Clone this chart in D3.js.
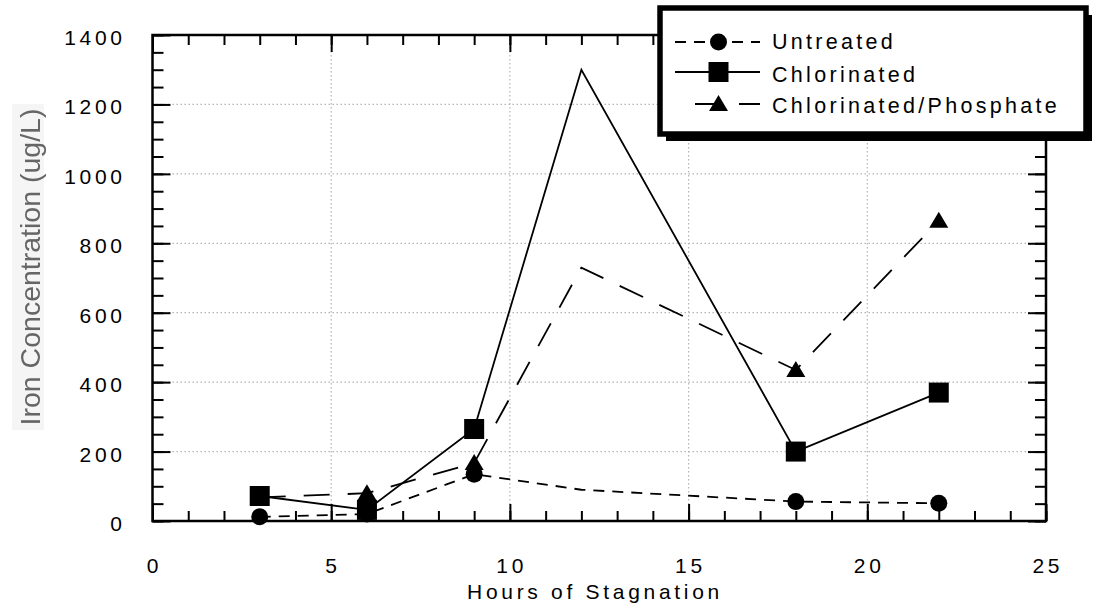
<!DOCTYPE html>
<html>
<head>
<meta charset="utf-8">
<script src="https://cdn.jsdelivr.net/npm/d3@7/dist/d3.min.js"></script>
<style>
  html, body { margin: 0; padding: 0; background: #fff; }
  svg { display: block; }
  .tick-label, .axis-title-x, .legend-text {
    font-family: "Liberation Sans", Arial, Helvetica, sans-serif;
    fill: #000;
  }
</style>
</head>
<body>
<svg id="chart" width="1094" height="610"></svg>
<script>
// Sampling times (hours of stagnation)
const hours = [3, 6, 9, 12, 18, 22];
// Iron concentration (ug/L) for each treatment
const untreated = [12, 20, 135, 90, 56, 51];
const chlorinated = [72, 32, 265, 1300, 200, 370];
const chlorPhosphate = [68, 80, 167, 730, 435, 865];
// Hours at which a symbol is plotted
const markedHours = [3, 6, 9, 18, 22];

const seriesNames = ["Untreated", "Chlorinated", "Chlorinated/Phosphate"];
const xTickValues = [0, 5, 10, 15, 20, 25];
const yTickValues = [0, 200, 400, 600, 800, 1000, 1200, 1400];
const xTitle = "Hours of Stagnation";
const yTitle = "Iron Concentration (ug/L)";

const svg = d3.select("#chart");
const plot = { left: 152.5, right: 1046, top: 35, bottom: 521 };

const x = d3.scaleLinear().domain([0, 25]).range([plot.left, plot.right]);
const y = d3.scaleLinear().domain([0, 1400]).range([plot.bottom, plot.top]);

// dotted grid
const grid = svg.append("g").attr("stroke", "#b4b4b4").attr("stroke-width", 1.2)
  .attr("stroke-dasharray", "1.5,2.5");
grid.selectAll("line.gx").data(xTickValues.filter(v => v > 0 && v < 25)).join("line")
  .attr("x1", d => x(d)).attr("x2", d => x(d))
  .attr("y1", plot.top).attr("y2", plot.bottom);
grid.selectAll("line.gy").data(yTickValues.filter(v => v > 0 && v < 1400)).join("line")
  .attr("x1", plot.left).attr("x2", plot.right)
  .attr("y1", d => y(d)).attr("y2", d => y(d));

// inward ticks on all four sides
const xMinor = d3.range(0, 26, 1);
const yMinor = d3.range(0, 1401, 50);
function styleAxis(g) {
  g.select(".domain").remove();
  g.selectAll(".tick line").attr("stroke", "#000").attr("stroke-width", 2);
  g.selectAll(".tick text").remove();
}
svg.append("g").attr("transform", `translate(0,${plot.bottom})`)
  .call(d3.axisBottom(x).tickValues(xMinor).tickSize(-10)).call(styleAxis);
svg.append("g").attr("transform", `translate(0,${plot.bottom})`)
  .call(d3.axisBottom(x).tickValues(xTickValues).tickSize(-17)).call(styleAxis);
svg.append("g").attr("transform", `translate(0,${plot.top})`)
  .call(d3.axisTop(x).tickValues(xMinor).tickSize(-10)).call(styleAxis);
svg.append("g").attr("transform", `translate(0,${plot.top})`)
  .call(d3.axisTop(x).tickValues(xTickValues).tickSize(-17)).call(styleAxis);
svg.append("g").attr("transform", `translate(${plot.left},0)`)
  .call(d3.axisLeft(y).tickValues(yMinor).tickSize(-11)).call(styleAxis);
svg.append("g").attr("transform", `translate(${plot.left},0)`)
  .call(d3.axisLeft(y).tickValues(yTickValues).tickSize(-18)).call(styleAxis);
svg.append("g").attr("transform", `translate(${plot.right},0)`)
  .call(d3.axisRight(y).tickValues(yMinor).tickSize(-11)).call(styleAxis);
svg.append("g").attr("transform", `translate(${plot.right},0)`)
  .call(d3.axisRight(y).tickValues(yTickValues).tickSize(-18)).call(styleAxis);

// frame
svg.append("rect")
  .attr("x", plot.left).attr("y", plot.top)
  .attr("width", plot.right - plot.left).attr("height", plot.bottom - plot.top)
  .attr("fill", "none").attr("stroke", "#000").attr("stroke-width", 2.5);

// tick labels
const spacing = 3.7;
svg.append("g").selectAll("text").data(xTickValues).join("text")
  .attr("class", "tick-label")
  .attr("x", d => x(d) + spacing / 2).attr("y", 573)
  .attr("text-anchor", "middle")
  .style("font-size", "21px").style("letter-spacing", spacing + "px")
  .text(d => d);
svg.append("g").selectAll("text").data(yTickValues).join("text")
  .attr("class", "tick-label")
  .attr("x", 122 + spacing).attr("y", d => y(d) + 10)
  .attr("text-anchor", "end")
  .style("font-size", "21px").style("letter-spacing", spacing + "px")
  .text(d => d);

// axis titles
svg.append("text").attr("class", "axis-title-x")
  .attr("x", 595).attr("y", 599).attr("text-anchor", "middle")
  .style("font-size", "21px").style("letter-spacing", spacing + "px")
  .text(xTitle);

const defs = svg.append("defs");
defs.append("filter").attr("id", "soft")
  .append("feGaussianBlur").attr("stdDeviation", 0.55);
svg.append("rect").attr("x", 12).attr("y", 104).attr("width", 32).attr("height", 326)
  .attr("fill", "#f5f5f5");
svg.append("text")
  .attr("transform", "translate(40,267) rotate(-90)")
  .attr("text-anchor", "middle")
  .attr("filter", "url(#soft)")
  .style("font-family", '"Liberation Sans", Arial, sans-serif')
  .style("font-size", "28.5px").style("fill", "#666")
  .text(yTitle);

// series
const series = [
  { name: seriesNames[0], values: untreated, dash: "11,8", marker: "circle" },
  { name: seriesNames[1], values: chlorinated, dash: null, marker: "square" },
  { name: seriesNames[2], values: chlorPhosphate, dash: "26,18", marker: "triangle" }
];

const line = d3.line().x(d => x(d.h)).y(d => y(d.v));

function drawMarker(g, type, cx, cy) {
  if (type === "circle") {
    g.append("circle").attr("cx", cx).attr("cy", cy).attr("r", 8.5).attr("fill", "#000");
  } else if (type === "square") {
    g.append("rect").attr("x", cx - 10).attr("y", cy - 10)
      .attr("width", 20).attr("height", 20).attr("fill", "#000");
  } else {
    g.append("path")
      .attr("d", `M${cx},${cy - 9}L${cx + 9.5},${cy + 7}L${cx - 9.5},${cy + 7}Z`)
      .attr("fill", "#000");
  }
}

const linesG = svg.append("g");
const marksG = svg.append("g");
series.forEach(s => {
  const pts = hours.map((h, i) => ({ h, v: s.values[i] }));
  linesG.append("path").datum(pts)
    .attr("d", line)
    .attr("fill", "none").attr("stroke", "#000").attr("stroke-width", 1.8)
    .attr("stroke-dasharray", s.dash);
  pts.filter(p => markedHours.includes(p.h)).forEach(p => {
    drawMarker(marksG, s.marker, x(p.h), y(p.v));
  });
});

// legend
const lg = svg.append("g");
lg.append("rect").attr("x", 666).attr("y", 15).attr("width", 426).attr("height", 126)
  .attr("fill", "#000");
lg.append("rect").attr("x", 660).attr("y", 8).attr("width", 426).attr("height", 126)
  .attr("fill", "#fff").attr("stroke", "#000").attr("stroke-width", 5.5);

const legendRows = [
  { s: series[0], cy: 42, base: 48.5, x1: 675 },
  { s: series[1], cy: 72, base: 82, x1: 675 },
  { s: series[2], cy: 104, base: 113, x1: 695 }
];
legendRows.forEach(r => {
  lg.append("line").attr("x1", r.x1).attr("x2", 760)
    .attr("y1", r.cy).attr("y2", r.cy)
    .attr("stroke", "#000").attr("stroke-width", 1.8)
    .attr("stroke-dasharray", r.s.dash);
  drawMarker(lg, r.s.marker, 718.5, r.cy);
  lg.append("text").attr("class", "legend-text")
    .attr("x", 772).attr("y", r.base)
    .style("font-size", "21.5px").style("letter-spacing", "3.3px")
    .text(r.s.name);
});
</script>
</body>
</html>
